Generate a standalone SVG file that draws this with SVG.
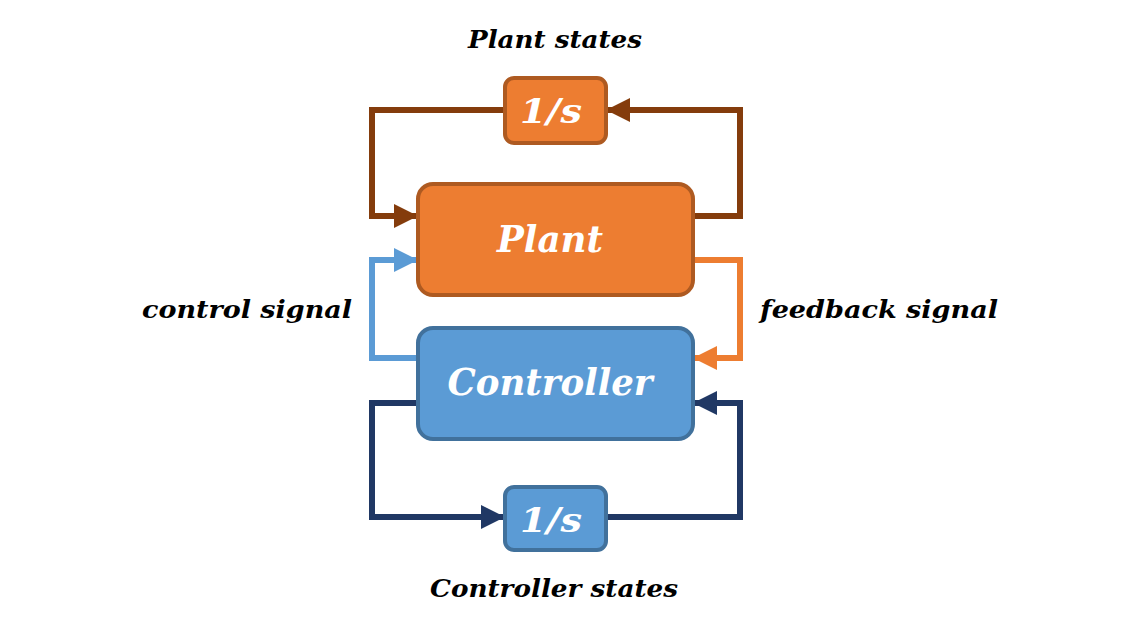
<svg xmlns="http://www.w3.org/2000/svg" width="1132" height="630" viewBox="0 0 1132 630">
<defs>
<style>
.lbl{font-family:"DejaVu Serif","Liberation Serif",serif;font-weight:bold;font-style:italic;fill:#000;font-size:24px}
.in{font-family:"DejaVu Serif","Liberation Serif",serif;font-weight:bold;font-style:italic;fill:#fff}
.wire{fill:none;stroke-width:6;stroke-linejoin:miter}
.org{fill:#ED7D31;stroke:#AE5A21;stroke-width:4}
.blu{fill:#5B9BD5;stroke:#41719C;stroke-width:4}
</style>
<marker id="aBrown" viewBox="0 0 10 10" refX="10" refY="5" markerWidth="4" markerHeight="4" orient="auto" markerUnits="strokeWidth"><path d="M0,0 L10,5 L0,10 z" fill="#843C0C"/></marker>
<marker id="aLight" viewBox="0 0 10 10" refX="10" refY="5" markerWidth="4" markerHeight="4" orient="auto" markerUnits="strokeWidth"><path d="M0,0 L10,5 L0,10 z" fill="#5B9BD5"/></marker>
<marker id="aOrange" viewBox="0 0 10 10" refX="10" refY="5" markerWidth="4" markerHeight="4" orient="auto" markerUnits="strokeWidth"><path d="M0,0 L10,5 L0,10 z" fill="#ED7D31"/></marker>
<marker id="aNavy" viewBox="0 0 10 10" refX="10" refY="5" markerWidth="4" markerHeight="4" orient="auto" markerUnits="strokeWidth"><path d="M0,0 L10,5 L0,10 z" fill="#203864"/></marker>
</defs>
<rect width="1132" height="630" fill="#fff"/>
<g id="connectors">
<path class="wire" stroke="#843C0C" d="M505,110 H372 V216 H418" marker-end="url(#aBrown)"/>
<path class="wire" stroke="#843C0C" d="M693,216 H740 V110 H606" marker-end="url(#aBrown)"/>
<path class="wire" stroke="#5B9BD5" d="M418,358 H372 V260 H418" marker-end="url(#aLight)"/>
<path class="wire" stroke="#ED7D31" d="M693,260 H740 V358 H693" marker-end="url(#aOrange)"/>
<path class="wire" stroke="#203864" d="M418,403 H372 V517 H505" marker-end="url(#aNavy)"/>
<path class="wire" stroke="#203864" d="M606,517 H740 V403 H693" marker-end="url(#aNavy)"/>
</g>
<g id="plant-integrator">
<rect class="org" x="505" y="78" width="101" height="65" rx="9"/>
<text class="in" x="551" y="123" font-size="34" text-anchor="middle" textLength="62" lengthAdjust="spacingAndGlyphs">1/s</text>
</g>
<g id="plant">
<rect class="org" x="418" y="184" width="275" height="111" rx="15"/>
<text class="in" x="550" y="252" font-size="37" text-anchor="middle" textLength="106" lengthAdjust="spacingAndGlyphs">Plant</text>
</g>
<g id="controller">
<rect class="blu" x="418" y="328" width="275" height="111" rx="15"/>
<text class="in" x="550" y="395" font-size="37" text-anchor="middle" textLength="205" lengthAdjust="spacingAndGlyphs">Controller</text>
</g>
<g id="controller-integrator">
<rect class="blu" x="505" y="487" width="101" height="63" rx="9"/>
<text class="in" x="551" y="532" font-size="34" text-anchor="middle" textLength="62" lengthAdjust="spacingAndGlyphs">1/s</text>
</g>
<g id="labels">
<text class="lbl" x="468" y="48" textLength="174" lengthAdjust="spacingAndGlyphs">Plant states</text>
<text class="lbl" x="142" y="318" textLength="210" lengthAdjust="spacingAndGlyphs">control signal</text>
<text class="lbl" x="760" y="318" textLength="238" lengthAdjust="spacingAndGlyphs">feedback signal</text>
<text class="lbl" x="430" y="597" textLength="248" lengthAdjust="spacingAndGlyphs">Controller states</text>
</g>
</svg>
